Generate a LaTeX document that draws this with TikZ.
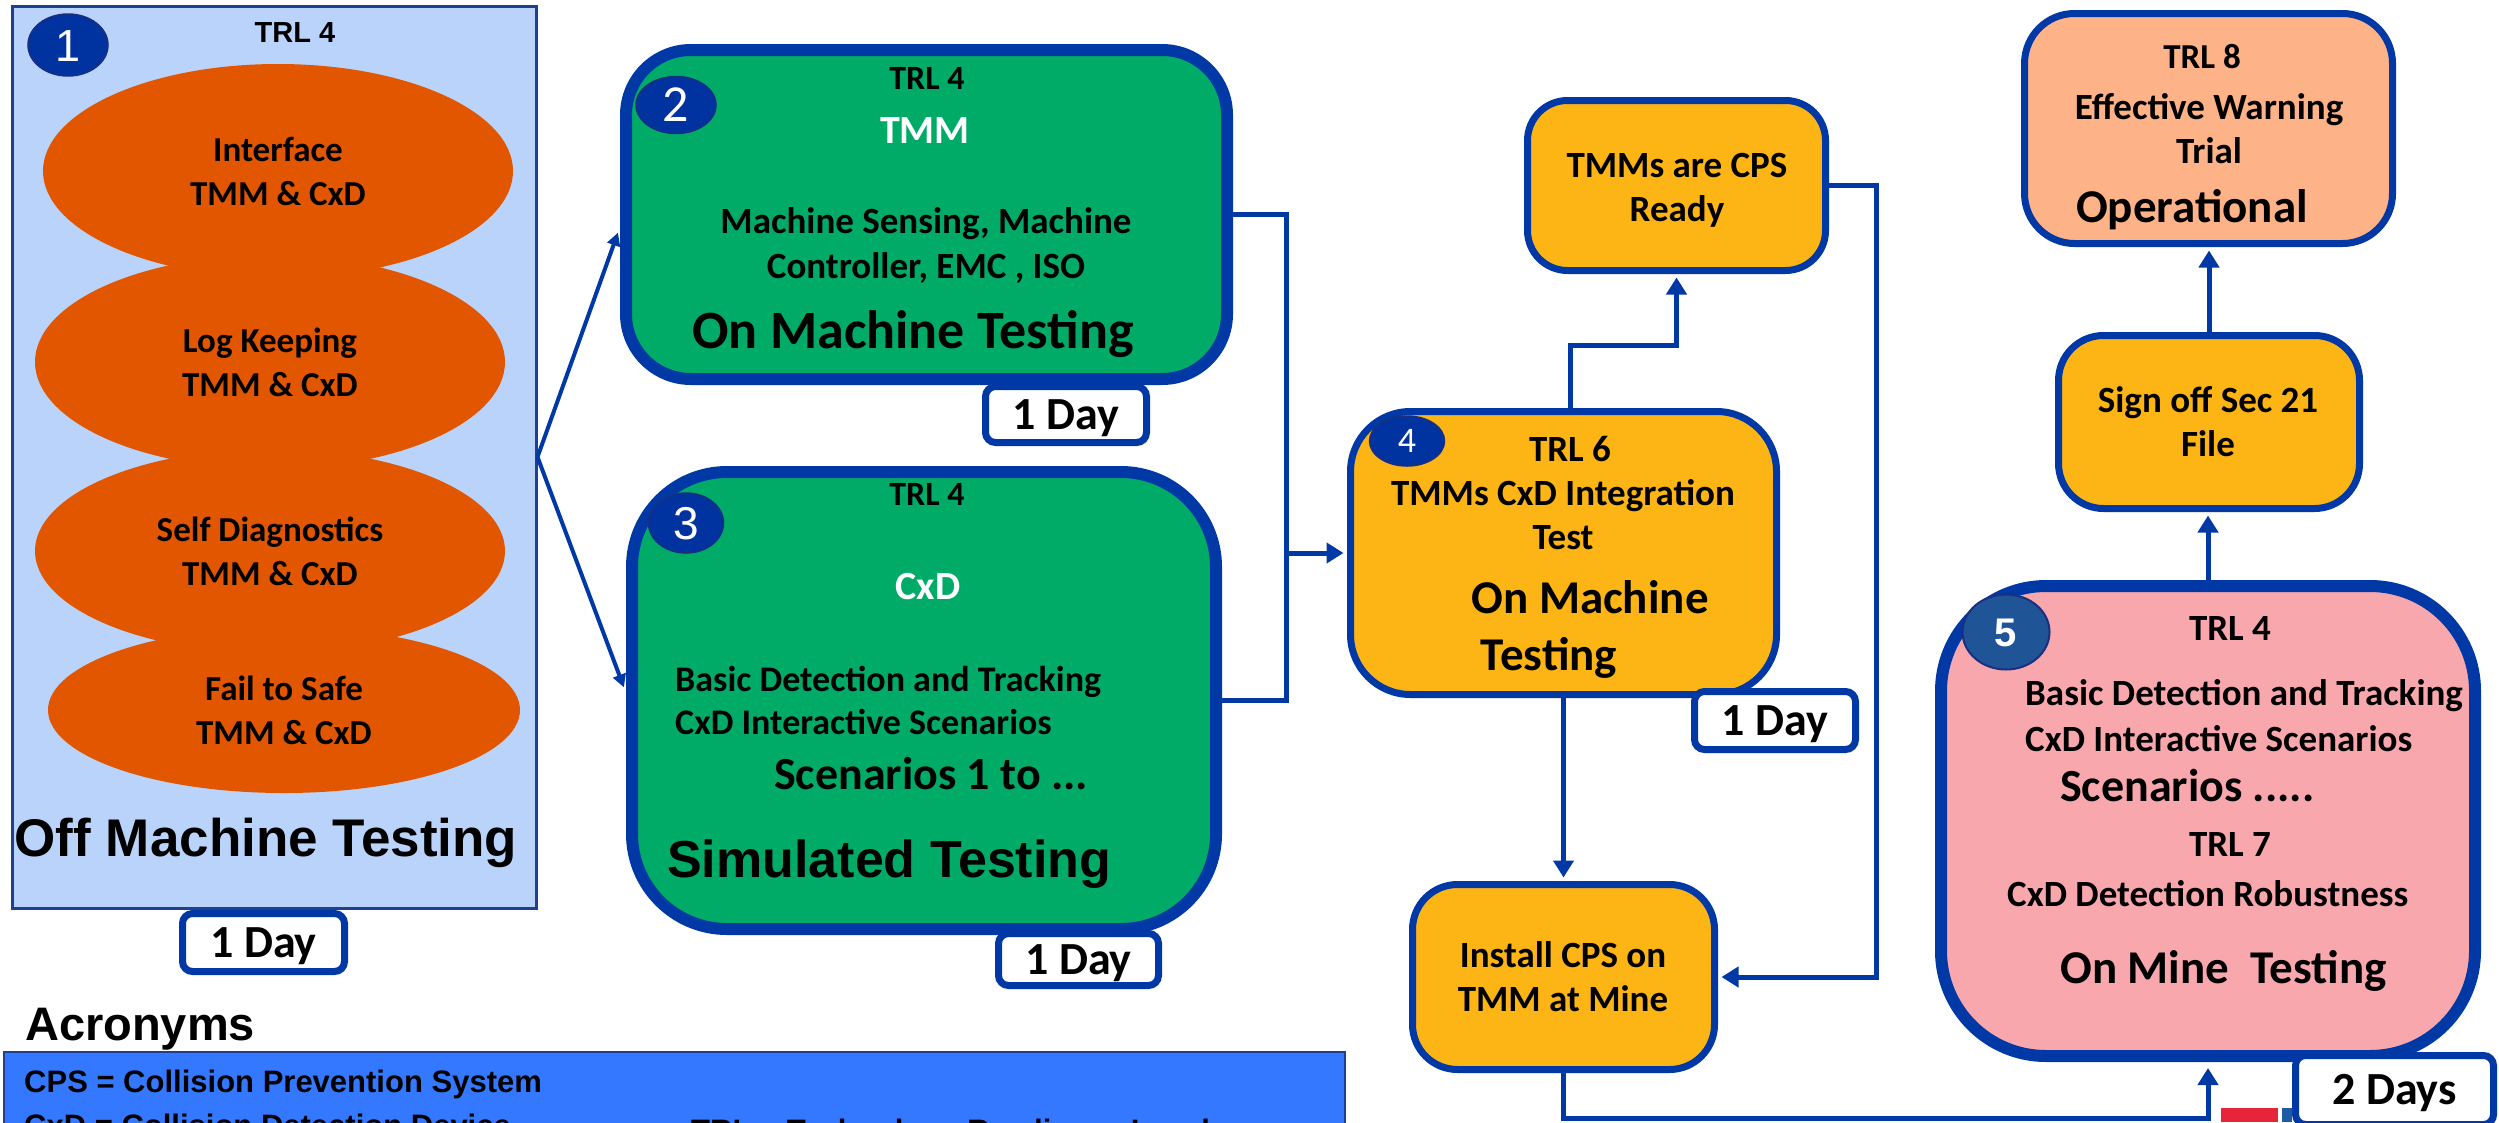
\documentclass[tikz,border=0pt]{standalone}
\usepackage{fontspec}
\setmainfont{Carlito}
\newfontfamily\arialf{Liberation Sans}
\usetikzlibrary{arrows.meta,shapes.geometric}
\newcommand\cbf[1]{\fontsize{#1}{#1}\selectfont\bfseries}
\newcommand\crf[1]{\fontsize{#1}{#1}\selectfont}
\newcommand\abf[1]{\arialf\fontsize{#1}{#1}\selectfont\bfseries}
\newcommand\arf[1]{\arialf\fontsize{#1}{#1}\selectfont}
\definecolor{dkb}{HTML}{0039A6}
\definecolor{b1c}{HTML}{1F3F8F}
\definecolor{circf}{HTML}{0033A0}
\definecolor{circd}{HTML}{1A2F80}
\definecolor{circv}{HTML}{1F5597}
\definecolor{grn}{HTML}{00AB68}
\definecolor{lb}{HTML}{BAD3FB}
\definecolor{org}{HTML}{E25600}
\definecolor{yel}{HTML}{FDB515}
\definecolor{pnk}{HTML}{F8A8AD}
\definecolor{sal}{HTML}{FDB287}
\definecolor{acrc}{HTML}{3478FF}
\definecolor{lred}{HTML}{E8243A}
\definecolor{lblu}{HTML}{1E5AA8}
\tikzset{
  rbox/.style={rectangle, draw=dkb, inner sep=0pt},
  ell/.style={ellipse, fill=org, inner sep=0pt, align=center, font={\fontsize{35}{44}\selectfont\bfseries}},
  circ/.style={ellipse, fill=circf, draw=circd, line width=1.5pt, inner sep=0pt, text=white, text depth=0pt},
  day/.style={rectangle, rounded corners=10pt, draw=dkb, line width=7pt, fill=white, inner sep=0pt,
    font={\cbf{46}}, text height=29pt, text depth=0pt},
  tc/.style={inner sep=0pt, anchor=base},
  tl/.style={inner sep=0pt, anchor=base west},
  arr/.style={draw=dkb, line width=5pt, -{Triangle[length=17pt,width=20pt]}, shorten >=3.5pt},
  arrw/.style={draw=dkb, line width=5pt, -{Triangle[length=17pt,width=20pt]}, shorten >=6pt},
  thinarr/.style={draw=dkb, line width=4pt, -{Triangle[length=13pt,width=13pt]}, shorten >=6pt},
  conn/.style={draw=dkb, line width=5pt}
}
\begin{document}
\begin{tikzpicture}[x=1pt,y=-1pt]
\useasboundingbox (0,0) rectangle (2499,1122);
\fill[white] (0,0) rectangle (2499,1122);

% ---------- Box 1 ----------
\node[rbox, fill=lb, draw=b1c, line width=3pt, minimum width=524pt, minimum height=902pt] (b1) at (274,457) {};
\node[ell, minimum width=470pt, minimum height=214pt] (e1) at (278,171) {Interface\\TMM \& CxD};
\node[ell, minimum width=470pt, minimum height=214pt] (e2) at (270,362) {Log Keeping\\TMM \& CxD};
\node[ell, minimum width=470pt, minimum height=204pt] (e3) at (270,551) {Self Diagnostics\\TMM \& CxD};
\node[ell, minimum width=472pt, minimum height=166pt] (e4) at (284,710) {Fail to Safe\\TMM \& CxD};
\node[circ, minimum width=80pt, minimum height=62pt, font={\arf{45}}, text height=32pt] (c1) at (68,45) {1};
\node[tc, font={\abf{29}}] (b1trl) at (295,42) {TRL 4};
\node[tc, font={\abf{53}}] (b1off) at (266,856) {Off Machine Testing};
\node[day, minimum width=162pt, minimum height=58pt] (d1) at (263.5,942.5) {1 Day};

% ---------- Box 2 ----------
\node[rbox, fill=grn, line width=12pt, rounded corners=65pt, minimum width=601pt, minimum height=329pt] (b2) at (926.5,214.5) {};
\node[circ, minimum width=80pt, minimum height=57pt, font={\crf{52}}, text height=33pt] (c2) at (676,105) {2};
\node[tc, font={\cbf{34}}] (b2trl) at (927,89) {TRL 4};
\node[tc, font={\cbf{40}}, text=white] (b2tmm) at (925,143) {TMM};
\node[tc, font={\cbf{37}}] (b2l1) at (926,233) {Machine Sensing, Machine};
\node[tc, font={\cbf{37}}] (b2l2) at (926,278) {Controller, EMC , ISO};
\node[tc, font={\cbf{54}}] (b2l3) at (913,348) {On Machine Testing};

% ---------- Box 3 ----------
\node[rbox, fill=grn, line width=12pt, rounded corners=95pt, minimum width=584pt, minimum height=457pt] (b3) at (924,700.5) {};
\node[circ, minimum width=75pt, minimum height=60pt, font={\arf{46}}, text height=33pt] (c3) at (686,523) {3};
\node[tc, font={\cbf{34}}] (b3trl) at (927,505) {TRL 4};
\node[tc, font={\cbf{40}}, text=white] (b3cxd) at (928,599) {CxD};
\node[tl, font={\cbf{36}}] (b3l1) at (675,691) {Basic Detection and Tracking};
\node[tl, font={\cbf{36}}] (b3l2) at (675,734) {CxD Interactive Scenarios};
\node[tl, font={\cbf{46}}] (b3l3) at (774,789) {Scenarios 1 to ...};
\node[tl, font={\abf{52}}] (b3l4) at (667,877) {Simulated Testing};

% ---------- Box 4 ----------
\node[rbox, fill=yel, line width=7pt, rounded corners=60pt, minimum width=426pt, minimum height=283pt] (b4) at (1563.5,553) {};
\node[circ, minimum width=75pt, minimum height=50pt, font={\crf{36}}, text height=23pt] (c4) at (1407,441) {4};
\node[tc, font={\cbf{37}}] (b4trl) at (1570,461) {TRL 6};
\node[tc, font={\cbf{37}}] (b4l1) at (1563,505) {TMMs CxD Integration};
\node[tc, font={\cbf{37}}] (b4l2) at (1563,549) {Test};
\node[tc, font={\cbf{47}}] (b4l3) at (1590,613) {On Machine};
\node[tc, font={\cbf{47}}] (b4l4) at (1549,670) {Testing};

% ---------- CPS ready ----------
\node[rbox, fill=yel, line width=7pt, rounded corners=40pt, minimum width=298pt, minimum height=170pt] (cps) at (1676.5,185.5) {};
\node[tc, font={\cbf{37}}] (cpsl1) at (1677,177) {TMMs are CPS};
\node[tc, font={\cbf{37}}] (cpsl2) at (1677,221) {Ready};

% ---------- Install ----------
\node[rbox, fill=yel, line width=7pt, rounded corners=45pt, minimum width=302pt, minimum height=185pt] (inst) at (1563.5,977) {};
\node[tc, font={\cbf{37}}] (instl1) at (1563,967) {Install CPS on};
\node[tc, font={\cbf{37}}] (instl2) at (1563,1011) {TMM at Mine};

% ---------- Sign off ----------
\node[rbox, fill=yel, line width=7pt, rounded corners=45pt, minimum width=301pt, minimum height=173pt] (sign) at (2209,422) {};
\node[tc, font={\cbf{37}}] (signl1) at (2208,412) {Sign off Sec 21};
\node[tc, font={\cbf{37}}] (signl2) at (2208,456) {File};

% ---------- TRL 8 ----------
\node[rbox, fill=sal, line width=7pt, rounded corners=50pt, minimum width=368pt, minimum height=230pt] (t8) at (2208.5,128.5) {};
\node[tc, font={\cbf{35}}] (t8l1) at (2202,68) {TRL 8};
\node[tc, font={\cbf{37}}] (t8l2) at (2209,119) {Effective Warning};
\node[tc, font={\cbf{37}}] (t8l3) at (2209,163) {Trial};
\node[tc, font={\cbf{47}}] (t8l4) at (2192,222) {Operational};

% ---------- Box 5 ----------
\node[rbox, fill=pnk, line width=12pt, rounded corners=105pt, minimum width=534pt, minimum height=470pt] (b5) at (2208,821) {};
\node[circ, fill=circv, draw=circd, line width=2pt, minimum width=87pt, minimum height=75pt, font={\abf{40}}, text height=29pt] (c5) at (2006,632) {5};
\node[tc, font={\cbf{37}}] (b5trl) at (2230,640) {TRL 4};
\node[tl, font={\cbf{37}}] (b5l1) at (2025,705) {Basic Detection and Tracking};
\node[tl, font={\cbf{37}}] (b5l2) at (2025,751) {CxD Interactive Scenarios};
\node[tl, font={\cbf{46}}] (b5l3) at (2060,801) {Scenarios .....};
\node[tc, font={\cbf{37}}] (b5trl7) at (2230,856) {TRL 7};
\node[tl, font={\cbf{37}}] (b5l4) at (2007,906) {CxD Detection Robustness};
\node[tl, font={\cbf{47}}] (b5l5) at (2060,983) {On Mine~~Testing};

% ---------- connectors ----------
\draw[thinarr] (b1.east) -- ([yshift=-12.5pt]b2.west);
\draw[thinarr] (b1.east) -- ([yshift=7.5pt]b3.west);
\coordinate (jn) at (1286,553);
\draw[conn] (b2.east) -| (jn);
\draw[conn] (b3.east) -| (jn);
\draw[arr] (jn) -- (b4.west);
\coordinate (k1) at (1676.5,345);
\draw[arr] ([xshift=6.5pt]b4.north) |- (k1) -- (cps.south);
\coordinate (k2) at (1876,700);
\draw[arr] (cps.east) -| (k2) |- (inst.east);
\draw[arr] (b4.south) -- (inst.north);
\coordinate (k3) at (2208,1118);
\draw[arrw] (inst.south) |- (k3) -- (b5.south);
\draw[arr] (b5.north) -- (b5.north |- sign.south);
\draw[arr] (sign.north) -- (sign.north |- t8.south);

% ---------- day boxes ----------
\node[day, minimum width=161pt, minimum height=56pt] (d2) at (1066,414.5) {1 Day};
\node[day, minimum width=160pt, minimum height=52pt] (d3) at (1078.5,959.5) {1 Day};
\node[day, minimum width=161pt, minimum height=58pt] (d4) at (1775,720.5) {1 Day};
\fill[lred] (2221,1108) rectangle (2278,1122);
\fill[lblu] (2282,1108) rectangle (2292,1122);
\node[day, minimum width=198pt, minimum height=69pt] (d5) at (2394.5,1090) {2 Days};

% ---------- acronyms ----------
\node[tl, font={\abf{47}}] (acrt) at (25,1040) {Acronyms};
\node[rectangle, fill=acrc, draw=b1c, line width=2pt, minimum width=1341pt, minimum height=100pt, inner sep=0pt] (acr) at (674.5,1102) {};
\node[tl, font={\abf{31}}] (acr1) at (24,1092) {CPS = Collision Prevention System};
\node[tl, font={\abf{31}}] (acr2) at (24,1136) {CxD = Collision Detection Device};
\node[tl, font={\abf{31}}] (acr3) at (691,1141) {TRL = Technology Readiness Level};
\end{tikzpicture}
\end{document}
